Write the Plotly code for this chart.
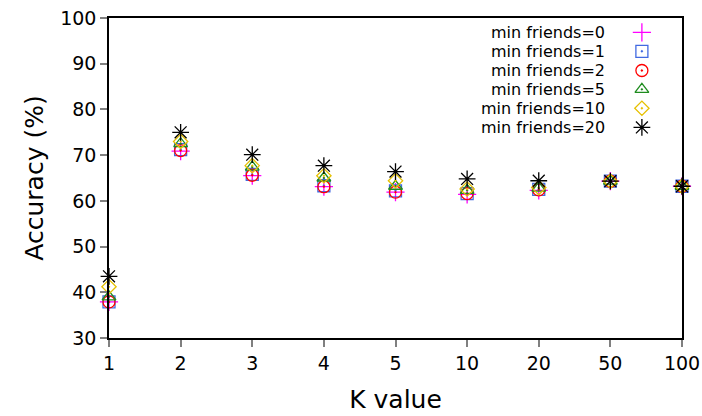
import plotly.graph_objects as go

k_labels = ["1", "2", "3", "4", "5", "10", "20", "50", "100"]

acc_min0 = [37.9, 70.9, 65.5, 63.1, 61.9, 61.4, 62.3, 64.3, 63.2]
acc_min1 = [37.9, 71.2, 65.8, 63.3, 62.2, 61.6, 62.5, 64.3, 63.2]
acc_min2 = [37.9, 71.0, 65.6, 63.1, 61.9, 61.6, 62.4, 64.3, 63.2]
acc_min5 = [39.0, 72.5, 67.4, 65.0, 63.2, 62.3, 62.8, 64.3, 63.2]
acc_min10 = [41.2, 73.0, 67.7, 65.5, 64.4, 62.6, 62.9, 64.3, 63.2]
acc_min20 = [43.5, 75.0, 70.1, 67.7, 66.4, 64.8, 64.4, 64.3, 63.2]

series_names = ["min friends=0", "min friends=1", "min friends=2",
                "min friends=5", "min friends=10", "min friends=20"]
series_vals = [acc_min0, acc_min1, acc_min2, acc_min5, acc_min10, acc_min20]

colors = ["#ff00ff", "#4169e1", "#ff0000", "#1e8c1e", "#e6c000", "#000000"]
symbols = ["cross-thin-open", "square-open-dot", "circle-open-dot",
           "triangle-up-open-dot", "diamond-open-dot", "asterisk-open"]
sizes = [13, 12, 12, 12, 11, 14]

FONT = "DejaVu Sans"
fig = go.Figure()

for name, vals, c, s, sz in zip(series_names, series_vals, colors, symbols, sizes):
    fig.add_trace(go.Scatter(
        x=k_labels, y=vals, mode="markers", name=name, showlegend=False,
        cliponaxis=False,
        marker=dict(symbol=s, size=sz, color=c, line=dict(color=c, width=1.3)),
    ))

# custom legend (text to the left of the symbol, gnuplot style)
leg_y = [0.955, 0.896, 0.836, 0.777, 0.718, 0.658]
for name, c, s, sz, yy in zip(series_names, colors, symbols, sizes, leg_y):
    fig.add_trace(go.Scatter(
        x=[0.930], y=[yy], xaxis="x2", yaxis="y2", mode="markers",
        showlegend=False, hoverinfo="skip", cliponaxis=False,
        marker=dict(symbol=s, size=sz, color=c, line=dict(color=c, width=1.3)),
    ))
    fig.add_annotation(x=0.867, y=yy, xref="paper", yref="paper", text=name,
                       showarrow=False, xanchor="right", yanchor="middle",
                       borderpad=0,
                       font=dict(family=FONT, size=16, color="#000000"))

axis_common = dict(showline=True, linecolor="#000000", linewidth=1.5, mirror=True,
                   ticks="outside", ticklen=7, tickwidth=2, tickcolor="#808080",
                   showgrid=False, zeroline=False, automargin=False,
                   tickfont=dict(family=FONT, size=19, color="#000000"))

fig.update_layout(
    width=702, height=416,
    margin=dict(l=109, r=20, t=18, b=78),
    paper_bgcolor="white", plot_bgcolor="white",
    font=dict(family=FONT, color="#000000"),
    xaxis=dict(type="category", categoryorder="array", categoryarray=k_labels,
               range=[0, 8],
               title=dict(text="K value", font=dict(family=FONT, size=25), standoff=18),
               **axis_common),
    yaxis=dict(range=[30, 100], dtick=10,
               title=dict(text="Accuracy (%)", font=dict(family=FONT, size=25), standoff=9),
               **axis_common),
    xaxis2=dict(overlaying="x", range=[0, 1], visible=False, fixedrange=True),
    yaxis2=dict(overlaying="y", range=[0, 1], visible=False, fixedrange=True),
)

fig.write_html("out.html")
